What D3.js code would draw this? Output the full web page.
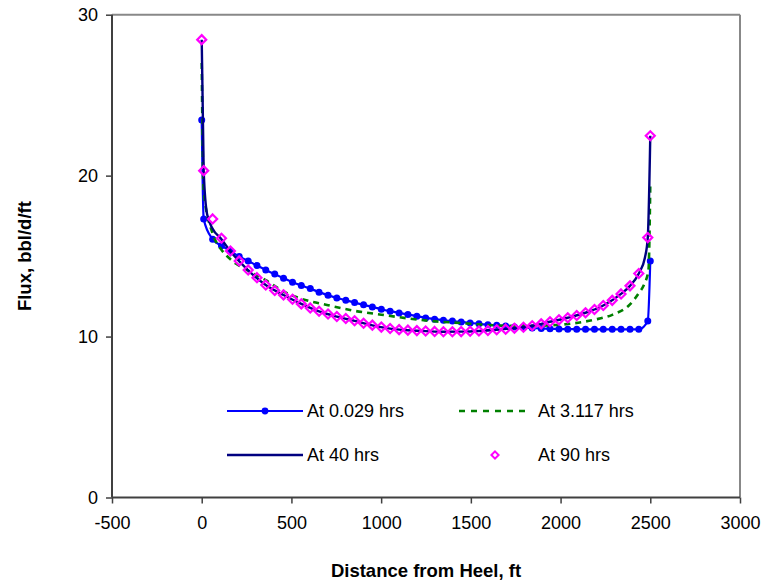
<!DOCTYPE html>
<html>
<head>
<meta charset="utf-8">
<script src="https://cdn.jsdelivr.net/npm/d3@7"></script>
<style>
  body { margin: 0; background: #fff; }
  svg text { font-family: Arial, "Liberation Sans", sans-serif; fill: #000; }
</style>
</head>
<body>
<div id="chart"></div>
<script>
// distance from heel (ft) of the marker points
const gridX = [0, 11, 61, 110, 160, 209, 259, 308, 357, 407, 456, 506, 555, 605, 654, 704, 753, 803, 852, 902,
  951, 1001, 1050, 1100, 1149, 1199, 1248, 1298, 1347, 1397, 1446, 1496, 1545, 1595, 1644, 1694, 1743, 1793,
  1842, 1892, 1941, 1991, 2040, 2090, 2139, 2189, 2238, 2288, 2337, 2387, 2436, 2486, 2500];

const flux0029 = [23.46, 17.31, 16.05, 15.65, 15.32, 14.97, 14.70, 14.41, 14.14, 13.88, 13.63, 13.38, 13.17, 12.98,
  12.76, 12.57, 12.40, 12.26, 12.11, 11.97, 11.84, 11.70, 11.58, 11.47, 11.37, 11.27, 11.16, 11.08, 11.02, 10.96,
  10.91, 10.85, 10.79, 10.74, 10.70, 10.65, 10.60, 10.56, 10.53, 10.50, 10.48, 10.47, 10.46, 10.46, 10.45, 10.45,
  10.45, 10.45, 10.45, 10.45, 10.45, 10.97, 14.70];

const flux90 = [28.45, 20.31, 17.31, 16.11, 15.32, 14.70, 14.14, 13.66, 13.21, 12.86, 12.59, 12.32, 12.03, 11.78,
  11.57, 11.40, 11.25, 11.12, 10.98, 10.83, 10.71, 10.59, 10.50, 10.43, 10.40, 10.37, 10.35, 10.32, 10.30, 10.30,
  10.31, 10.33, 10.35, 10.38, 10.42, 10.46, 10.52, 10.58, 10.67, 10.79, 10.92, 11.04, 11.17, 11.31, 11.48, 11.68,
  11.93, 12.25, 12.65, 13.15, 13.92, 16.15, 22.48];

const flux40X = [0, 11, 30, 61, 110, 160, 259, 357, 456, 555, 654, 753, 852, 951, 1050, 1149, 1248, 1347, 1446,
  1545, 1644, 1743, 1842, 1941, 2040, 2139, 2238, 2337, 2387, 2436, 2470, 2486, 2500];
const flux40 = [28.45, 20.3, 17.6, 16.7, 16.05, 15.3, 14.12, 13.2, 12.58, 12.03, 11.56, 11.24, 10.97, 10.70, 10.49,
  10.39, 10.34, 10.30, 10.31, 10.35, 10.42, 10.52, 10.67, 10.92, 11.17, 11.48, 11.93, 12.65, 13.15, 13.92, 14.9,
  16.15, 22.48];

const flux3117X = [0, 11, 61, 110, 160, 259, 357, 456, 555, 704, 852, 1001, 1149, 1298, 1446, 1595, 1743, 1892,
  2040, 2189, 2288, 2387, 2436, 2468, 2490, 2500];
const flux3117 = [27.0, 19.0, 16.4, 15.4, 14.8, 14.1, 13.5, 12.8, 12.35, 11.95, 11.6, 11.36, 11.13, 10.95, 10.84,
  10.72, 10.66, 10.68, 10.78, 11.05, 11.35, 12.0, 12.7, 13.3, 14.14, 19.5];

const xTicks = [-500, 0, 500, 1000, 1500, 2000, 2500, 3000];
const yTicks = [0, 10, 20, 30];
const seriesNames = ['At 0.029 hrs', 'At 3.117 hrs', 'At 40 hrs', 'At 90 hrs'];

const w = 764, h = 586;
const plotLeft = 112, plotRight = 740, plotTop = 14.7, plotBottom = 497.5;

const blue = '#0000FF', green = '#008000', navy = '#000080', magenta = '#FF00FF';

const svg = d3.select('#chart').append('svg')
  .attr('width', w)
  .attr('height', h);

const xScale = d3.scaleLinear().domain([-500, 3000]).range([plotLeft, plotRight]);
const yScale = d3.scaleLinear().domain([0, 30]).range([plotBottom, plotTop]);

// plot frame (top/right in grey like Excel)
svg.append('line')
  .attr('x1', plotLeft).attr('x2', plotRight).attr('y1', plotTop).attr('y2', plotTop)
  .attr('stroke', '#888').attr('stroke-width', 2);
svg.append('line')
  .attr('x1', plotRight).attr('x2', plotRight).attr('y1', plotTop).attr('y2', plotBottom)
  .attr('stroke', '#888').attr('stroke-width', 2);

// plain hyphen for negatives, like the original
const plain = (d) => String(d);
const xAxis = d3.axisBottom(xScale).tickValues(xTicks).tickSize(6).tickPadding(13).tickFormat(plain);
const yAxis = d3.axisLeft(yScale).tickValues(yTicks).tickSize(6).tickPadding(8).tickFormat(plain);

const gx = svg.append('g')
  .attr('transform', 'translate(0,' + plotBottom + ')')
  .call(xAxis);
const gy = svg.append('g')
  .attr('transform', 'translate(' + plotLeft + ',0)')
  .call(yAxis);

[gx, gy].forEach((g) => {
  g.select('.domain').attr('stroke', '#404040').attr('stroke-width', 2);
  g.selectAll('.tick line').attr('stroke', '#404040').attr('stroke-width', 1.5);
  g.selectAll('.tick text')
    .style('font-family', 'Arial, "Liberation Sans", sans-serif')
    .style('font-size', '18px')
    .attr('fill', '#000');
});
gx.select('.domain').attr('d', 'M' + plotLeft + ',0H' + plotRight);
gy.select('.domain').attr('d', 'M0,' + plotTop + 'V' + plotBottom);

// series
const line = d3.line()
  .x((d) => xScale(d[0]))
  .y((d) => yScale(d[1]))
  .curve(d3.curveMonotoneX);

const s0029 = gridX.map((x, i) => [x, flux0029[i]]);
const s3117 = flux3117X.map((x, i) => [x, flux3117[i]]);
const s40 = flux40X.map((x, i) => [x, flux40[i]]);
const s90 = gridX.map((x, i) => [x, flux90[i]]);

svg.append('path')
  .datum(s0029)
  .attr('d', line)
  .attr('fill', 'none')
  .attr('stroke', blue)
  .attr('stroke-width', 2.2);

svg.selectAll('.dot')
  .data(s0029)
  .enter()
  .append('circle')
  .attr('class', 'dot')
  .attr('cx', (d) => xScale(d[0]))
  .attr('cy', (d) => yScale(d[1]))
  .attr('r', 3.5)
  .attr('fill', blue);

svg.append('path')
  .datum(s3117)
  .attr('d', line)
  .attr('fill', 'none')
  .attr('stroke', green)
  .attr('stroke-width', 2.6)
  .attr('stroke-dasharray', '6,5');

svg.append('path')
  .datum(s40)
  .attr('d', line)
  .attr('fill', 'none')
  .attr('stroke', navy)
  .attr('stroke-width', 2.4);

const diamond = (cx, cy, r) => 'M' + cx + ',' + (cy - r) + 'L' + (cx + r) + ',' + cy +
  'L' + cx + ',' + (cy + r) + 'L' + (cx - r) + ',' + cy + 'Z';

svg.selectAll('.diamond')
  .data(s90)
  .enter()
  .append('path')
  .attr('class', 'diamond')
  .attr('d', (d) => diamond(xScale(d[0]), yScale(d[1]), 4.5))
  .attr('fill', 'none')
  .attr('stroke', magenta)
  .attr('stroke-width', 2.2);

// legend
const legend = svg.append('g');
const row1 = 411, row2 = 455;

legend.append('line').attr('x1', 227).attr('x2', 303).attr('y1', row1).attr('y2', row1)
  .attr('stroke', blue).attr('stroke-width', 2.2);
legend.append('circle').attr('cx', 265).attr('cy', row1).attr('r', 3.4).attr('fill', blue);

legend.append('line').attr('x1', 227).attr('x2', 303).attr('y1', row2).attr('y2', row2)
  .attr('stroke', navy).attr('stroke-width', 2.4);

legend.append('line').attr('x1', 459).attr('x2', 526).attr('y1', row1).attr('y2', row1)
  .attr('stroke', green).attr('stroke-width', 2.6).attr('stroke-dasharray', '6,6');

legend.append('path').attr('d', diamond(495, row2, 3.6))
  .attr('fill', 'none').attr('stroke', magenta).attr('stroke-width', 2);

const labelPos = [[307, row1], [538, row1], [307, row2], [538, row2]];
legend.selectAll('text')
  .data(seriesNames)
  .enter()
  .append('text')
  .attr('x', (d, i) => labelPos[i][0])
  .attr('y', (d, i) => labelPos[i][1])
  .attr('dy', '.35em')
  .style('font-size', '18px')
  .text((d) => d);

// axis titles
svg.append('text')
  .attr('x', (plotLeft + plotRight) / 2)
  .attr('y', 577)
  .attr('text-anchor', 'middle')
  .style('font-size', '18.5px')
  .style('font-weight', 'bold')
  .text('Distance from Heel, ft');

svg.append('text')
  .attr('transform', 'translate(31,' + ((plotTop + plotBottom) / 2) + ')rotate(-90)')
  .attr('text-anchor', 'middle')
  .style('font-size', '18.5px')
  .style('font-weight', 'bold')
  .text('Flux, bbl/d/ft');
</script>
</body>
</html>
